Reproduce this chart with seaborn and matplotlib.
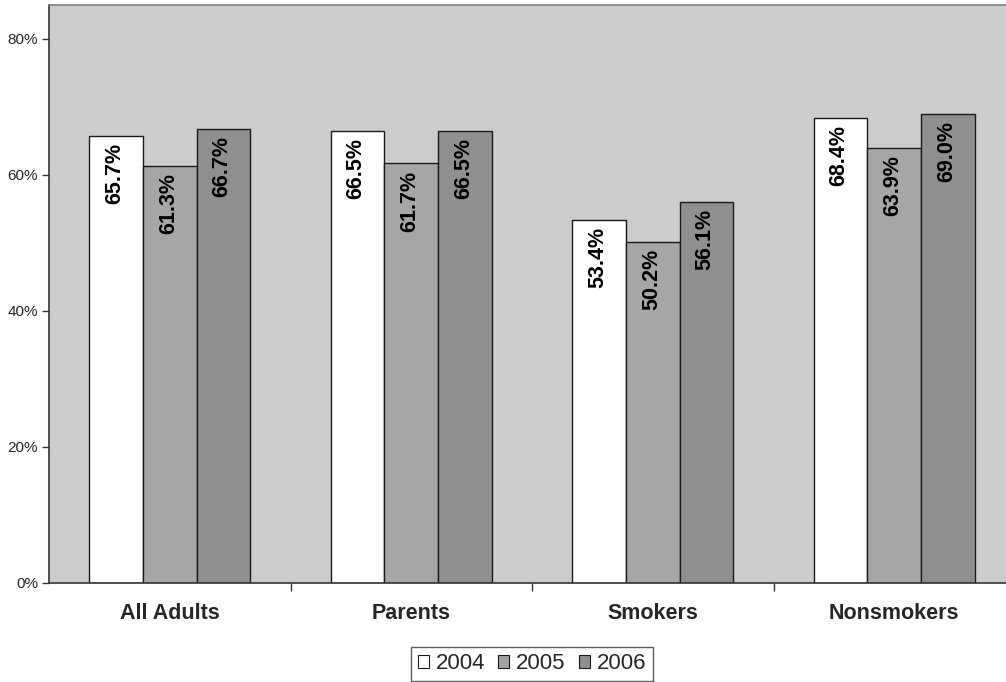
import matplotlib
matplotlib.use("Agg")
import matplotlib.pyplot as plt
import seaborn as sns
import pandas as pd
from matplotlib.patches import Patch

groups = ["All Adults", "Parents", "Smokers", "Nonsmokers"]
years = ["2004", "2005", "2006"]
v2004 = [65.7, 66.5, 53.4, 68.4]
v2005 = [61.3, 61.7, 50.2, 63.9]
v2006 = [66.7, 66.5, 56.1, 69.0]
yticks = [0, 20, 40, 60, 80]

colors = {"2004": "#FFFFFF", "2005": "#A6A6A6", "2006": "#8F8F8F"}

rows = []
for yr, vals in zip(years, [v2004, v2005, v2006]):
    for g, v in zip(groups, vals):
        rows.append({"group": g, "year": yr, "value": v})
df = pd.DataFrame(rows)

sns.set_theme(style="white")
plt.rcParams["font.family"] = ["Liberation Sans", "DejaVu Sans"]

fig = plt.figure(figsize=(10.06, 6.82), dpi=100)
ax = fig.add_axes([49 / 1006, 1 - 583 / 682, (1015 - 49) / 1006, (583 - 5) / 682])
ax.set_facecolor("#CCCCCC")

sns.barplot(data=df, x="group", y="value", hue="year", order=groups,
            hue_order=years, palette=colors, width=2 / 3, gap=0,
            edgecolor="#1a1a1a", linewidth=1.0, saturation=1,
            legend=False, ax=ax)

# value labels, rotated, just inside the top of each bar
for cont in ax.containers:
    for bar in cont:
        h = bar.get_height()
        ax.annotate(f"{h:.1f}%", (bar.get_x() + bar.get_width() / 2, h),
                    xytext=(-1, -5), textcoords="offset points",
                    rotation=90, ha="center", va="top",
                    fontsize=15.5, fontweight="bold", color="black")

ax.set_ylim(0, 85)
ax.set_xlim(-0.5, 3.5)
ax.set_yticks(yticks)
ax.set_yticklabels([f"{t}%" for t in yticks], fontsize=11)
ax.set_xticks([0.5, 1.5, 2.5])
ax.set_xticklabels([])
ax.tick_params(axis="y", left=True, length=5, width=1, color="#333333", pad=3)
ax.tick_params(axis="x", bottom=True, length=6, width=1, color="#333333")
for i, g in enumerate(groups):
    ax.text(i, -3.0, g, ha="center", va="top", fontsize=15.5,
            fontweight="bold", clip_on=False)
ax.set_xlabel("")
ax.set_ylabel("")

for side in ["left", "bottom"]:
    ax.spines[side].set_color("#333333")
    ax.spines[side].set_linewidth(1.2)
ax.spines["top"].set_color("#808080")
ax.spines["top"].set_linewidth(1.2)
ax.spines["right"].set_visible(False)

handles = [Patch(facecolor=colors[y], edgecolor="#1a1a1a", linewidth=0.8, label=y)
           for y in years]
leg = fig.legend(handles=handles, loc="lower center", ncol=3,
                 bbox_to_anchor=(532 / 1006, 0.0), fontsize=16, frameon=True,
                 fancybox=False, handlelength=0.5, handleheight=0.5,
                 handletextpad=0.3, columnspacing=0.6, borderpad=0.3,
                 borderaxespad=0.05)
leg.get_frame().set_edgecolor("#333333")
leg.get_frame().set_linewidth(1.0)

fig.savefig("out.png", dpi=100)
